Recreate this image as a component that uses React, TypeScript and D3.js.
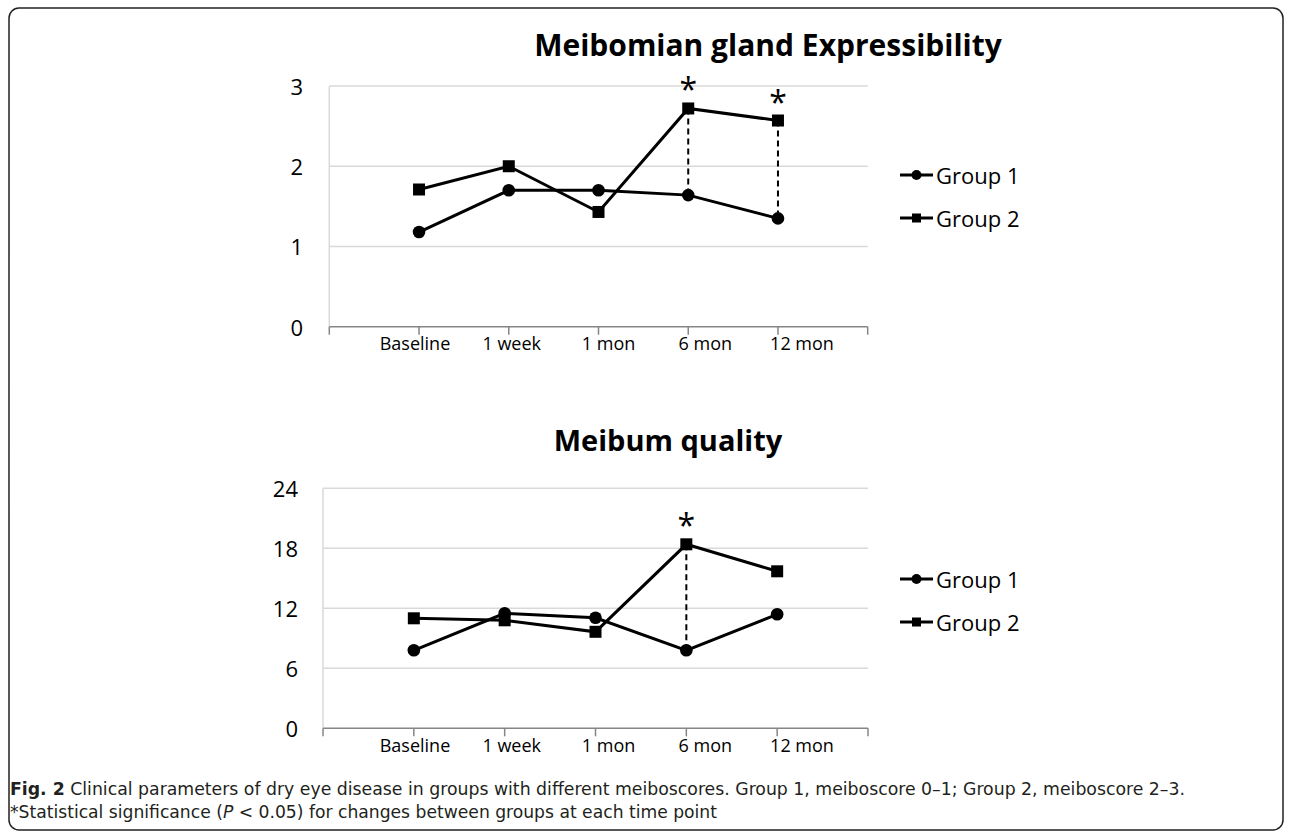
import React from "react";
import * as d3 from "d3";

const categories = ["Baseline", "1 week", "1 mon", "6 mon", "12 mon"];
const expressG1 = [1.18, 1.7, 1.7, 1.64, 1.35];
const expressG2 = [1.71, 2.0, 1.43, 2.72, 2.57];
const expressTicks = [0, 1, 2, 3];
const expressSig = ["6 mon", "12 mon"];
const qualityG1 = [7.8, 11.5, 11.05, 7.8, 11.4];
const qualityG2 = [11.0, 10.8, 9.65, 18.4, 15.7];
const qualityTicks = [0, 6, 12, 18, 24];
const qualitySig = ["6 mon"];
const seriesNames = ["Group 1", "Group 2"];

const FONT = "'Open Sans', 'Noto Sans', sans-serif";

type PanelProps = {
  title: string;
  titleX: number;
  titleY: number;
  titleSize: number;
  g1: number[];
  g2: number[];
  ticks: number[];
  sig: string[];
  x0: number;
  x1: number;
  yTop: number;
  yBot: number;
  labelRight: number;
  catLabelY: number;
  legendY: number[];
};

function Panel(p: PanelProps) {
  const yMax = p.ticks[p.ticks.length - 1];
  const x = d3.scaleLinear().domain([0, categories.length + 1]).range([p.x0, p.x1]);
  const y = d3.scaleLinear().domain([0, yMax]).range([p.yBot, p.yTop]);
  const labelX = d3.scalePoint<string>().domain(categories).range([415, 802]);
  const line = d3
    .line<number>()
    .x((_, i) => x(i + 1))
    .y((d) => y(d));
  const tickIdx = d3.range(0, categories.length + 2);
  const sq = 12;
  return (
    <g>
      <text x={p.titleX} y={p.titleY} textAnchor="middle" fontFamily={FONT} fontWeight="bold" fontSize={p.titleSize} fill="#000">
        {p.title}
      </text>
      {p.ticks.map((t) => (
        <g key={t}>
          {t > 0 && <line x1={p.x0} x2={p.x1} y1={y(t)} y2={y(t)} stroke="#d9d9d9" strokeWidth={1.5} />}
          <text x={p.labelRight} y={y(t)} textAnchor="end" dominantBaseline="central" fontFamily={FONT} fontSize={22} fill="#000">
            {t}
          </text>
        </g>
      ))}
      <line x1={p.x0} x2={p.x0} y1={p.yTop} y2={p.yBot} stroke="#d9d9d9" strokeWidth={1.5} />
      <line x1={p.x0} x2={p.x1} y1={p.yBot} y2={p.yBot} stroke="#868686" strokeWidth={1.5} />
      {tickIdx.map((i) => (
        <line key={i} x1={x(i)} x2={x(i)} y1={p.yBot} y2={p.yBot + 8} stroke="#868686" strokeWidth={1.5} />
      ))}
      {categories.map((c) => (
        <text key={c} x={labelX(c)} y={p.catLabelY} textAnchor="middle" dominantBaseline="central" fontFamily={FONT} fontSize={18} fill="#000">
          {c}
        </text>
      ))}
      {p.sig.map((c) => {
        const i = categories.indexOf(c);
        return (
          <g key={c}>
            <line x1={x(i + 1)} x2={x(i + 1)} y1={y(p.g2[i])} y2={y(p.g1[i])} stroke="#000" strokeWidth={2} strokeDasharray="6,4" />
            <text x={x(i + 1)} y={y(Math.max(p.g1[i], p.g2[i])) - 7} textAnchor="middle" fontFamily={FONT} fontSize={32} fill="#000">
              *
            </text>
          </g>
        );
      })}
      <path d={line(p.g1) || ""} fill="none" stroke="#000" strokeWidth={3} />
      <path d={line(p.g2) || ""} fill="none" stroke="#000" strokeWidth={3} />
      {p.g1.map((v, i) => (
        <circle key={"c" + i} cx={x(i + 1)} cy={y(v)} r={6.3} fill="#000" />
      ))}
      {p.g2.map((v, i) => (
        <rect key={"s" + i} x={x(i + 1) - sq / 2} y={y(v) - sq / 2} width={sq} height={sq} fill="#000" />
      ))}
      {seriesNames.map((n, k) => (
        <g key={n}>
          <line x1={900} x2={933} y1={p.legendY[k]} y2={p.legendY[k]} stroke="#000" strokeWidth={3} />
          {k === 0 ? (
            <circle cx={916.5} cy={p.legendY[k]} r={5} fill="#000" />
          ) : (
            <rect x={912} y={p.legendY[k] - 4.5} width={9} height={9} fill="#000" />
          )}
          <text x={936} y={p.legendY[k]} dominantBaseline="central" fontFamily={FONT} fontSize={22} fill="#000">
            {n}
          </text>
        </g>
      ))}
    </g>
  );
}

export default function App() {
  const capFont = "'Liberation Sans Narrow', 'DejaVu Sans Condensed', 'Liberation Sans', sans-serif";
  return (
    <svg width={1292} height={839} style={{ position: "absolute", left: 0, top: 0, background: "#fff" }}>
      <rect x={9} y={8} width={1274} height={822} rx={10} ry={10} fill="#fff" stroke="#222" strokeWidth={1.5} />
      <Panel
        title="Meibomian gland Expressibility"
        titleX={768}
        titleY={56}
        titleSize={30}
        g1={expressG1}
        g2={expressG2}
        ticks={expressTicks}
        sig={expressSig}
        x0={329.3}
        x1={867.7}
        yTop={86}
        yBot={326.7}
        labelRight={303}
        catLabelY={343}
        legendY={[175, 218]}
      />
      <Panel
        title="Meibum quality"
        titleX={668}
        titleY={451}
        titleSize={29}
        g1={qualityG1}
        g2={qualityG2}
        ticks={qualityTicks}
        sig={qualitySig}
        x0={323}
        x1={868}
        yTop={488.3}
        yBot={728.3}
        labelRight={298}
        catLabelY={745}
        legendY={[579, 622]}
      />
      <text x={10} y={795} fontFamily={capFont} fontSize={17} fill="#231f20" textLength={1175} lengthAdjust="spacingAndGlyphs">
        <tspan fontWeight="bold">Fig. 2</tspan> Clinical parameters of dry eye disease in groups with different meiboscores. Group 1, meiboscore 0–1; Group 2, meiboscore 2–3.
      </text>
      <text x={10} y={818} fontFamily={capFont} fontSize={17} fill="#231f20" textLength={707} lengthAdjust="spacingAndGlyphs">
        *Statistical significance (<tspan fontStyle="italic">P</tspan> &lt; 0.05) for changes between groups at each time point
      </text>
    </svg>
  );
}
